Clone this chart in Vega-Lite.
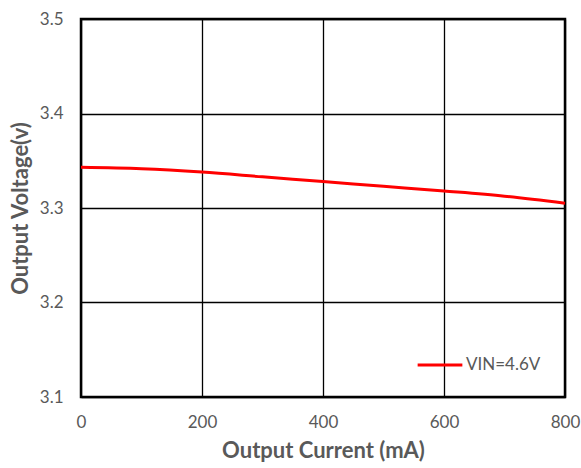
{
  "$schema": "https://vega.github.io/schema/vega-lite/v6.json",
  "width": 484,
  "height": 378,
  "autosize": {"type": "none"},
  "padding": {"left": 81, "top": 19, "right": 16, "bottom": 71},
  "background": "white",
  "config": {
    "view": {"stroke": "#000000", "strokeWidth": 2.5},
    "font": "Lato",
    "axis": {
      "grid": true,
      "gridColor": "#000000",
      "gridWidth": 1.3,
      "gridOpacity": 1,
      "domain": false,
      "ticks": false,
      "labelFlush": false,
      "labelOverlap": false,
      "labelColor": "#595959",
      "labelFont": "Lato",
      "labelFontSize": 17,
      "titleColor": "#595959",
      "titleFont": "Lato",
      "titleFontSize": 22,
      "titleFontWeight": "bold"
    }
  },
  "data": {
    "values": [
      {"current": 0, "voltage": 3.343, "series": "VIN=4.6V"},
      {"current": 100, "voltage": 3.3415, "series": "VIN=4.6V"},
      {"current": 200, "voltage": 3.338, "series": "VIN=4.6V"},
      {"current": 300, "voltage": 3.333, "series": "VIN=4.6V"},
      {"current": 400, "voltage": 3.328, "series": "VIN=4.6V"},
      {"current": 500, "voltage": 3.323, "series": "VIN=4.6V"},
      {"current": 600, "voltage": 3.318, "series": "VIN=4.6V"},
      {"current": 700, "voltage": 3.3125, "series": "VIN=4.6V"},
      {"current": 800, "voltage": 3.305, "series": "VIN=4.6V"}
    ]
  },
  "mark": {"type": "line", "strokeWidth": 3, "interpolate": "monotone"},
  "encoding": {
    "x": {
      "field": "current",
      "type": "quantitative",
      "scale": {"domain": [0, 800], "nice": false},
      "axis": {"values": [0, 200, 400, 600, 800], "title": "Output Current (mA)", "labelPadding": 17, "titlePadding": 10}
    },
    "y": {
      "field": "voltage",
      "type": "quantitative",
      "scale": {"domain": [3.1, 3.5], "nice": false, "zero": false},
      "axis": {"values": [3.1, 3.2, 3.3, 3.4, 3.5], "format": ".1f", "title": "Output Voltage(v)", "labelPadding": 18, "titlePadding": 7}
    },
    "color": {
      "field": "series",
      "type": "nominal",
      "scale": {"range": ["#ff0000"]},
      "legend": {
        "title": null,
        "orient": "none",
        "legendX": 335,
        "legendY": 322,
        "symbolType": "stroke",
        "symbolSize": 2000,
        "symbolStrokeWidth": 3,
        "labelColor": "#595959",
        "labelFont": "Lato",
        "labelFontSize": 17,
        "labelOffset": 2,
        "padding": 0
      }
    }
  }
}
